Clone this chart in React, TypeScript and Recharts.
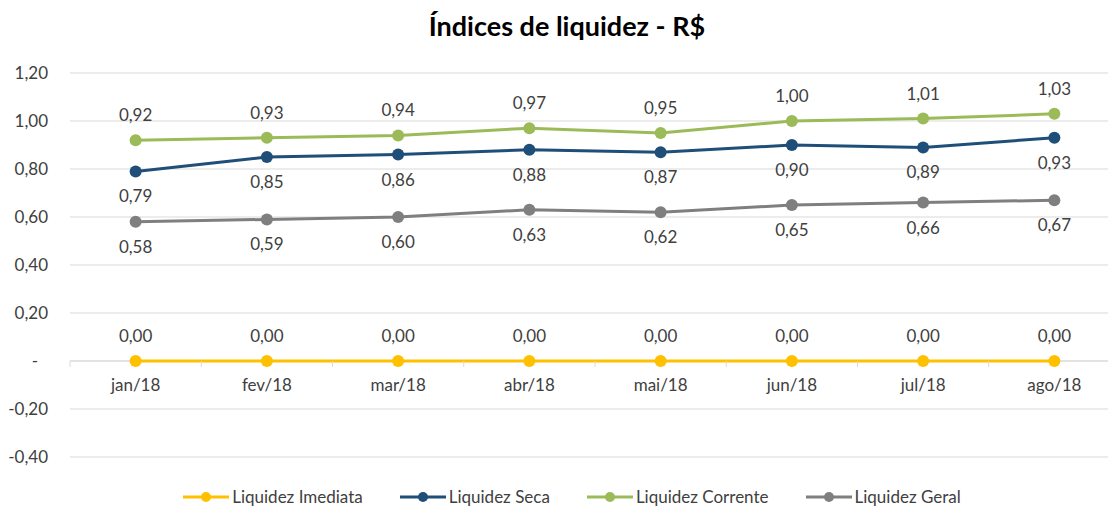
import { LineChart, Line, XAxis, YAxis, CartesianGrid, ReferenceLine, LabelList } from 'recharts';

const months = ['jan/18', 'fev/18', 'mar/18', 'abr/18', 'mai/18', 'jun/18', 'jul/18', 'ago/18'];
const imediata = [0, 0, 0, 0, 0, 0, 0, 0];
const seca = [0.79, 0.85, 0.86, 0.88, 0.87, 0.9, 0.89, 0.93];
const corrente = [0.92, 0.93, 0.94, 0.97, 0.95, 1.0, 1.01, 1.03];
const geral = [0.58, 0.59, 0.6, 0.63, 0.62, 0.65, 0.66, 0.67];
const yTicks = [-0.4, -0.2, 0, 0.2, 0.4, 0.6, 0.8, 1.0, 1.2];

const series = [
  { key: 'imediata', name: 'Liquidez Imediata', color: '#FFC000', pos: 'top' },
  { key: 'seca', name: 'Liquidez Seca', color: '#1F4E79', pos: 'bottom' },
  { key: 'corrente', name: 'Liquidez Corrente', color: '#9BBB59', pos: 'top' },
  { key: 'geral', name: 'Liquidez Geral', color: '#7F7F7F', pos: 'bottom' },
] as const;

const data = months.map((m, i) => ({
  month: m,
  imediata: imediata[i],
  seca: seca[i],
  corrente: corrente[i],
  geral: geral[i],
}));

const W = 1125;
const H = 507;
const FONT = 'Lato, "Open Sans", sans-serif';
const Y_MIN = -0.4;
const Y_MAX = 1.2;
const M = { top: 73, right: 5, left: 0, bottom: 49 };
const Y_W = 70;
const X_H = 1;
const PLOT_TOP = M.top;
const PLOT_H = H - M.top - M.bottom - X_H;
const PLOT_W = W - M.left - M.right - Y_W;
const ZERO_Y = PLOT_TOP + (PLOT_H * Y_MAX) / (Y_MAX - Y_MIN);
const BAND = PLOT_W / months.length;

const fmt = (v: number) => v.toFixed(2).replace('.', ',');

function XTick(props: any) {
  const { x, payload, index } = props;
  const last = index === months.length - 1;
  return (
    <g>
      <line x1={x - BAND / 2} x2={x - BAND / 2} y1={ZERO_Y} y2={ZERO_Y + 6} stroke="#d9d9d9" />
      {last && <line x1={x + BAND / 2} x2={x + BAND / 2} y1={ZERO_Y} y2={ZERO_Y + 6} stroke="#d9d9d9" />}
      <text x={x} y={ZERO_Y + 30} textAnchor="middle" fill="#404040" fontSize={17} fontFamily={FONT}>
        {payload.value}
      </text>
    </g>
  );
}

function YTick(props: any) {
  const { x, y, payload } = props;
  const v = payload.value as number;
  const zero = Math.abs(v) < 1e-9;
  return (
    <text x={zero ? x - 10 : x} y={y + 6} textAnchor="end" fill="#404040" fontSize={17} fontFamily={FONT}>
      {zero ? '-' : fmt(v)}
    </text>
  );
}

function LegendBox() {
  return (
    <div
      style={{
        position: 'absolute',
        left: 0,
        top: 486,
        width: 1108,
        display: 'flex',
        justifyContent: 'center',
        gap: 37,
        fontFamily: FONT,
        fontSize: 17,
        color: '#404040',
        paddingLeft: 36,
        boxSizing: 'border-box',
      }}
    >
      {series.map((s) => (
        <div key={s.key} style={{ display: 'flex', alignItems: 'center' }}>
          <svg width={46} height={12} style={{ marginRight: 3 }}>
            <line x1={0} x2={46} y1={6} y2={6} stroke={s.color} strokeWidth={3} />
            <circle cx={23} cy={6} r={5} fill={s.color} />
          </svg>
          <span>{s.name}</span>
        </div>
      ))}
    </div>
  );
}

export default function App() {
  return (
    <div style={{ position: 'absolute', left: 0, top: 0, width: 1108, height: 507, overflow: 'hidden', background: '#fff' }}>
      <div
        style={{
          position: 'absolute',
          left: 0,
          top: 9,
          width: 1108,
          paddingLeft: 26,
          boxSizing: 'border-box',
          textAlign: 'center',
          fontFamily: FONT,
          fontWeight: 'bold',
          fontSize: 27,
          color: '#000',
        }}
      >
        Índices de liquidez - R$
      </div>
      <LineChart width={W} height={H} data={data} margin={M}>
        <CartesianGrid vertical={false} stroke="#d9d9d9" />
        <XAxis
          dataKey="month"
          axisLine={false}
          tickLine={false}
          tick={<XTick />}
          interval={0}
          height={X_H}
          padding={{ left: BAND / 2, right: BAND / 2 }}
        />
        <YAxis
          width={Y_W}
          domain={[Y_MIN, Y_MAX]}
          ticks={yTicks}
          axisLine={false}
          tickLine={false}
          tickSize={0}
          tickMargin={22}
          tick={<YTick />}
          interval={0}
        />
        <ReferenceLine y={0} stroke="#d9d9d9" />
        {series.map((s) => (
          <Line
            key={s.key}
            type="linear"
            dataKey={s.key}
            name={s.name}
            stroke={s.color}
            strokeWidth={3}
            dot={{ r: 6, fill: s.color, stroke: s.color, strokeWidth: 0 }}
            activeDot={false}
            isAnimationActive={false}
          >
            <LabelList
              dataKey={s.key}
              position={s.pos}
              offset={19}
              formatter={(v: any) => fmt(Number(v))}
              fill="#404040"
              fontSize={17}
              fontFamily={FONT}
            />
          </Line>
        ))}
      </LineChart>
      <LegendBox />
    </div>
  );
}
